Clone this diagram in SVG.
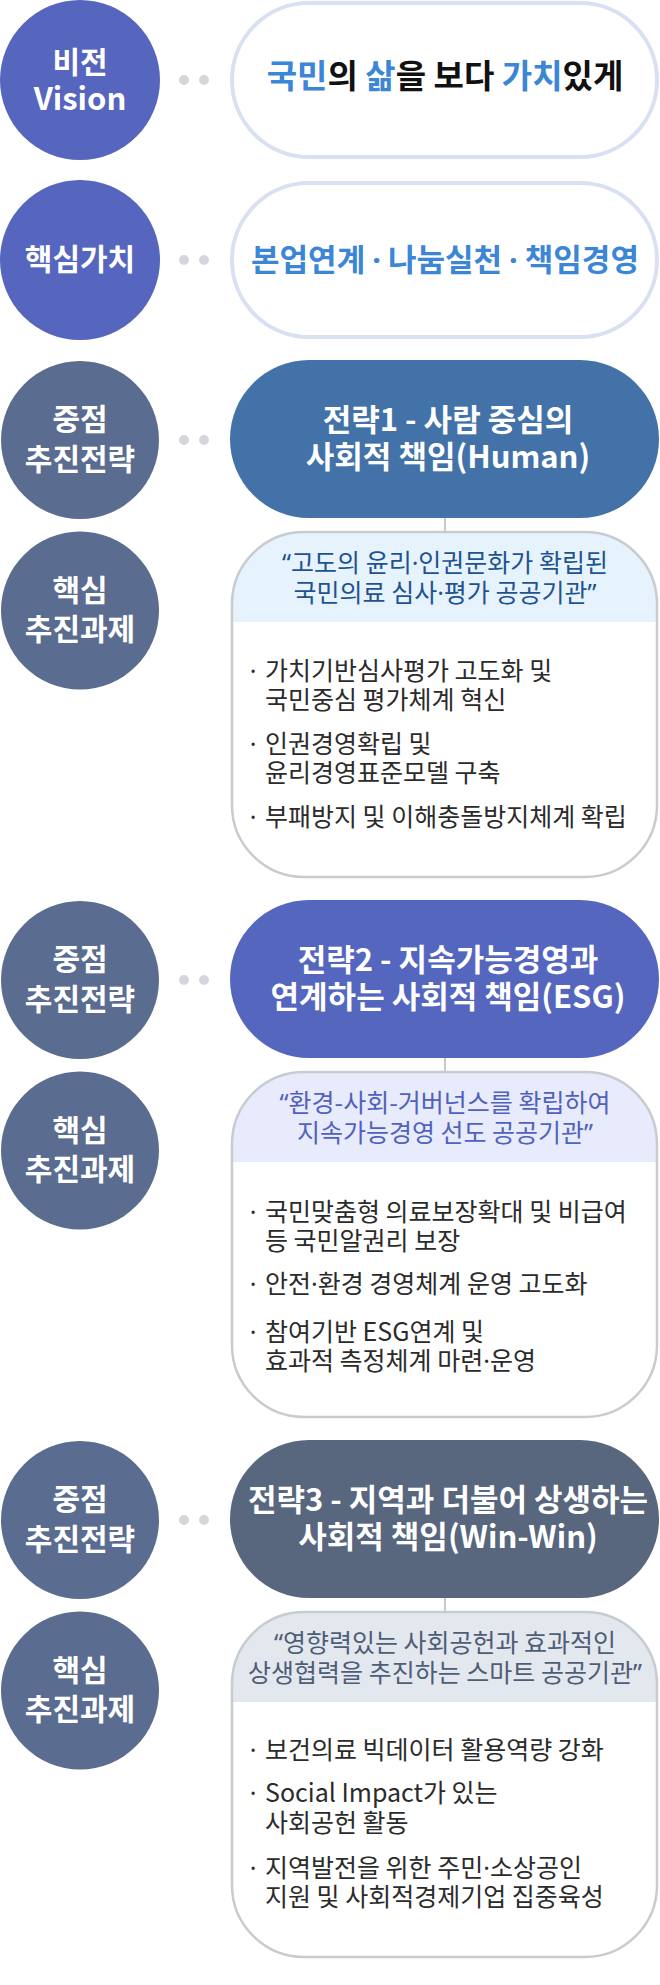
<svg xmlns="http://www.w3.org/2000/svg" width="660" height="1985" viewBox="0 0 660 1985">
<style>
text{font-family:"Noto Sans CJK KR","Noto Sans",sans-serif}
.ct{font-size:30px;font-weight:700;fill:#fff;text-anchor:middle}
.pt{font-size:31px;font-weight:700;fill:#fff;text-anchor:middle}
.ht{font-size:25px;text-anchor:middle}
.bt{font-size:25px;fill:#2b2b2b}
.bd{font-size:25px;fill:#2b2b2b;text-anchor:middle;font-family:"Noto Sans",sans-serif}
.p{font-family:"Noto Sans",sans-serif}
.dot{fill:#d3d6db}
.box{fill:none;stroke:#c8cbd0;stroke-width:2.5}
.vp{fill:#fff;stroke:#d9e0f2;stroke-width:4}
.conn{stroke:#c5c8cd;stroke-width:2}
.blue{fill:#3b86d6}
.blk{fill:#111}
</style>

<g id="connectors">
<line class="conn" x1="445" y1="518" x2="445" y2="532"/>
<line class="conn" x1="445" y1="1058" x2="445" y2="1072"/>
<line class="conn" x1="445" y1="1598" x2="445" y2="1612"/>
<circle class="dot" cx="184" cy="80" r="5"/><circle class="dot" cx="204" cy="80" r="5"/>
<circle class="dot" cx="184" cy="260" r="5"/><circle class="dot" cx="204" cy="260" r="5"/>
<circle class="dot" cx="184" cy="440" r="5"/><circle class="dot" cx="204" cy="440" r="5"/>
<circle class="dot" cx="184" cy="980" r="5"/><circle class="dot" cx="204" cy="980" r="5"/>
<circle class="dot" cx="184" cy="1520" r="5"/><circle class="dot" cx="204" cy="1520" r="5"/>
</g>

<g id="vision-label">
<circle cx="80" cy="80" r="80" fill="#5665be"/>
<text class="ct" x="80" y="73">비전</text>
<text class="ct" x="80" y="110" style="font-size:31px">Vision</text>
</g>
<g id="vision">
<rect class="vp" x="232" y="3" width="425" height="154" rx="77"/>
<text x="445" y="88" text-anchor="middle" style="font-size:33px;font-weight:700"><tspan class="blue">국민</tspan><tspan class="blk">의 </tspan><tspan class="blue">삶</tspan><tspan class="blk">을 보다 </tspan><tspan class="blue">가치</tspan><tspan class="blk">있게</tspan></text>
</g>

<g id="value-label">
<circle cx="80" cy="260" r="80" fill="#5665be"/>
<text class="ct" x="80" y="270">핵심가치</text>
</g>
<g id="value">
<rect class="vp" x="232" y="183" width="425" height="154" rx="77"/>
<text class="blue" x="445" y="271" text-anchor="middle" style="font-size:31px;font-weight:700">본업연계 <tspan class="p">·</tspan> 나눔실천 <tspan class="p">·</tspan> 책임경영</text>
</g>

<!-- Section 1 -->
<g id="s1-label">
<circle cx="80" cy="440" r="79" fill="#5a6c8f"/>
<text class="ct" x="80" y="430">중점</text>
<text class="ct" x="80" y="470">추진전략</text>
</g>
<g id="s1-strategy">
<rect x="230" y="360" width="429" height="158" rx="79" fill="#4272a8"/>
<text class="pt" x="448" y="431">전략1 - 사람 중심의</text>
<text class="pt" x="448" y="468">사회적 책임(Human)</text>
</g>
<g id="t1-label">
<circle cx="80" cy="610.5" r="79" fill="#5a6c8f"/>
<text class="ct" x="80" y="601">핵심</text>
<text class="ct" x="80" y="640">추진과제</text>
</g>
<g id="t1-tasks">
<path d="M232,622 V604 A72,72 0 0 1 304,532 H585 A72,72 0 0 1 657,604 V622 Z" fill="#e6f3fd"/>
<rect class="box" x="232" y="532" width="425" height="345" rx="72"/>
<text class="ht" x="445" y="572" fill="#1f5390"><tspan class="p">“</tspan>고도의 윤리<tspan class="p">·</tspan>인권문화가 확립된</text>
<text class="ht" x="445" y="602" fill="#1f5390">국민의료 심사<tspan class="p">·</tspan>평가 공공기관<tspan class="p">”</tspan></text>
<text class="bd" x="253" y="680">·</text><text class="bt" x="265" y="680">가치기반심사평가 고도화 및</text>
<text class="bt" x="265" y="709">국민중심 평가체계 혁신</text>
<text class="bd" x="253" y="753">·</text><text class="bt" x="265" y="753">인권경영확립 및</text>
<text class="bt" x="265" y="782">윤리경영표준모델 구축</text>
<text class="bd" x="253" y="826">·</text><text class="bt" x="265" y="826">부패방지 및 이해충돌방지체계 확립</text>
</g>

<!-- Section 2 -->
<g id="s2-label">
<circle cx="80" cy="980" r="79" fill="#5a6c8f"/>
<text class="ct" x="80" y="970">중점</text>
<text class="ct" x="80" y="1010">추진전략</text>
</g>
<g id="s2-strategy">
<rect x="230" y="900" width="429" height="158" rx="79" fill="#5566be"/>
<text class="pt" x="448" y="971">전략2 - 지속가능경영과</text>
<text class="pt" x="448" y="1008">연계하는 사회적 책임(ESG)</text>
</g>
<g id="t2-label">
<circle cx="80" cy="1150.5" r="79" fill="#5a6c8f"/>
<text class="ct" x="80" y="1141">핵심</text>
<text class="ct" x="80" y="1180">추진과제</text>
</g>
<g id="t2-tasks">
<path d="M232,1162 V1144 A72,72 0 0 1 304,1072 H585 A72,72 0 0 1 657,1144 V1162 Z" fill="#e8ebfb"/>
<rect class="box" x="232" y="1072" width="425" height="345" rx="72"/>
<text class="ht" x="445" y="1112" fill="#5062bd"><tspan class="p">“</tspan>환경-사회-거버넌스를 확립하여</text>
<text class="ht" x="445" y="1142" fill="#5062bd">지속가능경영 선도 공공기관<tspan class="p">”</tspan></text>
<text class="bd" x="253" y="1221">·</text><text class="bt" x="265" y="1221">국민맞춤형 의료보장확대 및 비급여</text>
<text class="bt" x="265" y="1250">등 국민알권리 보장</text>
<text class="bd" x="253" y="1293">·</text><text class="bt" x="265" y="1293">안전<tspan class="p">·</tspan>환경 경영체계 운영 고도화</text>
<text class="bd" x="253" y="1341">·</text><text class="bt" x="265" y="1341">참여기반 ESG연계 및</text>
<text class="bt" x="265" y="1370">효과적 측정체계 마련<tspan class="p">·</tspan>운영</text>
</g>

<!-- Section 3 -->
<g id="s3-label">
<circle cx="80" cy="1520" r="79" fill="#5a6c8f"/>
<text class="ct" x="80" y="1510">중점</text>
<text class="ct" x="80" y="1550">추진전략</text>
</g>
<g id="s3-strategy">
<rect x="230" y="1440" width="429" height="158" rx="79" fill="#58667e"/>
<text class="pt" x="448" y="1511">전략3 - 지역과 더불어 상생하는</text>
<text class="pt" x="448" y="1548">사회적 책임(Win-Win)</text>
</g>
<g id="t3-label">
<circle cx="80" cy="1690.5" r="79" fill="#5a6c8f"/>
<text class="ct" x="80" y="1681">핵심</text>
<text class="ct" x="80" y="1720">추진과제</text>
</g>
<g id="t3-tasks">
<path d="M232,1702 V1684 A72,72 0 0 1 304,1612 H585 A72,72 0 0 1 657,1684 V1702 Z" fill="#e3e8ef"/>
<rect class="box" x="232" y="1612" width="425" height="345" rx="72"/>
<text class="ht" x="445" y="1652" fill="#4f5d76"><tspan class="p">“</tspan>영향력있는 사회공헌과 효과적인</text>
<text class="ht" x="445" y="1682" fill="#4f5d76">상생협력을 추진하는 스마트 공공기관<tspan class="p">”</tspan></text>
<text class="bd" x="253" y="1759">·</text><text class="bt" x="265" y="1759">보건의료 빅데이터 활용역량 강화</text>
<text class="bd" x="253" y="1802">·</text><text class="bt" x="265" y="1802">Social Impact가 있는</text>
<text class="bt" x="265" y="1832">사회공헌 활동</text>
<text class="bd" x="253" y="1877">·</text><text class="bt" x="265" y="1877">지역발전을 위한 주민<tspan class="p">·</tspan>소상공인</text>
<text class="bt" x="265" y="1906">지원 및 사회적경제기업 집중육성</text>
</g>
</svg>
